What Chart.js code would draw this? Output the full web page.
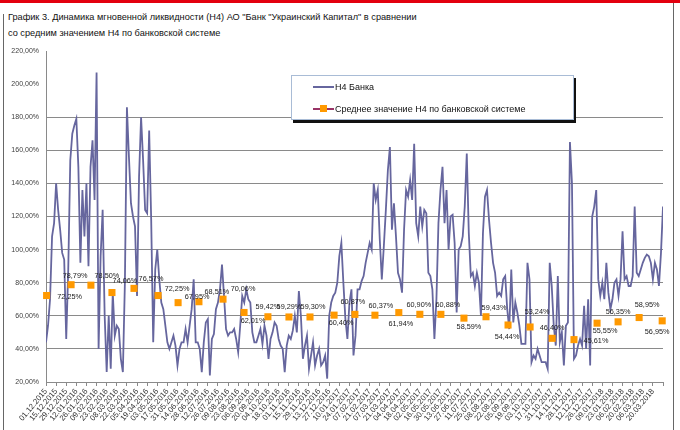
<!DOCTYPE html>
<html>
<head>
<meta charset="utf-8">
<script src="https://cdn.jsdelivr.net/npm/chart.js@4.4.1/dist/chart.umd.min.js"></script>
<style>
  html, body { margin: 0; padding: 0; background: #fff; }
  #wrap { position: relative; width: 680px; height: 430px; overflow: hidden; font-family: "Liberation Sans", Arial, sans-serif; }
  #topbar { position: absolute; left: 0; top: 0; width: 680px; height: 3px; background: #e3000f; }
  #frameL { position: absolute; left: 3px; top: 14px; width: 1px; height: 416px; background: #666; }
  #frameR { position: absolute; left: 673px; top: 3px; width: 1px; height: 427px; background: #666; }
  #title { position: absolute; left: 8px; top: 9px; font-size: 9.2px; line-height: 16px; color: #111; white-space: nowrap; }
  #chart { position: absolute; left: 0; top: 0; }
  #legend { position: absolute; left: 291px; top: 75px; width: 281px; height: 43px; background: #fff;
            border: 1px solid #a9bcd6; box-shadow: 2px 3px 0 #111; font-size: 9px; color: #111; }
  .item { position: absolute; left: 21px; height: 12px; line-height: 12px; white-space: nowrap; }
  .item .ln { position: absolute; left: 0; top: 5px; width: 21px; height: 2px; }
  .item .sq { position: absolute; left: 7px; top: 2px; width: 7px; height: 7px; background: #ff9900; }
  .item span { position: absolute; left: 22px; top: 0; }
</style>
</head>
<body>
<div id="wrap">
  <div id="topbar"></div>
  <div id="frameL"></div>
  <div id="frameR"></div>
  <div id="title">График 3. Динамика мгновенной ликвидности (Н4) АО "Банк "Украинский Капитал" в сравнении<br>со средним значением Н4 по банковской системе</div>
  <canvas id="chart" width="680" height="430"></canvas>
  <div id="legend">
    <div class="item" style="top:5px"><div class="ln" style="background:#66669e"></div><span>Н4 Банка</span></div>
    <div class="item" style="top:27px"><div class="ln" style="background:#993366"></div><div class="sq"></div><span>Среднее значение Н4 по банковской системе</span></div>
  </div>
</div>
<script>
// date labels, one every 5 points of the daily series
var tickLabels = [
  "01.12.2015", "15.12.2015", "29.12.2015", "12.01.2016", "26.01.2016", "09.02.2016", "23.02.2016",
  "08.03.2016", "22.03.2016", "05.04.2016", "19.04.2016", "03.05.2016", "17.05.2016", "31.05.2016",
  "14.06.2016", "28.06.2016", "12.07.2016", "26.07.2016", "09.08.2016", "23.08.2016", "06.09.2016",
  "20.09.2016", "04.10.2016", "18.10.2016", "01.11.2016", "15.11.2016", "29.11.2016", "13.12.2016",
  "27.12.2016", "10.01.2017", "24.01.2017", "07.02.2017", "21.02.2017", "07.03.2017", "21.03.2017",
  "04.04.2017", "18.04.2017", "02.05.2017", "16.05.2017", "30.05.2017", "13.06.2017", "27.06.2017",
  "11.07.2017", "25.07.2017", "08.08.2017", "22.08.2017", "05.09.2017", "19.09.2017", "03.10.2017",
  "17.10.2017", "31.10.2017", "14.11.2017", "28.11.2017", "12.12.2017", "26.12.2017", "09.01.2018",
  "23.01.2018", "06.02.2018", "20.02.2018", "06.03.2018", "20.03.2018"
];
var pointsPerTick = 5;

// Н4 Банка, %
var bankH4 = [
  44, 54, 70, 108, 116, 140, 124, 112, 98, 94,
  46, 88, 154, 170, 175, 179, 150, 92, 136, 108,
  140, 90, 150, 166, 130, 207, 40, 96, 124, 60,
  26, 60, 28, 74, 48, 54, 52, 34, 26, 80,
  186, 156, 128, 120, 114, 72, 144, 180, 154, 124,
  122, 172, 118, 44, 88, 100, 82, 68, 64, 54,
  44, 40, 44, 48, 42, 30, 40, 44, 44, 52,
  44, 54, 64, 82, 44, 44, 40, 26, 44, 56,
  58, 24, 46, 49, 64, 68, 76, 91, 72, 52,
  48, 50, 50, 52, 46, 38, 54, 72, 68, 76,
  70, 68, 50, 44, 44, 48, 52, 43, 54, 48,
  34, 46, 50, 56, 54, 46, 42, 40, 26, 42,
  48, 46, 51, 60, 50, 75, 60, 34, 42, 48,
  28, 36, 44, 30, 36, 40, 30, 32, 36, 22,
  60, 68, 72, 74, 80, 96, 104, 80, 58, 46,
  68, 76, 36, 48, 76, 76, 81, 84, 92, 98,
  104, 100, 140, 130, 136, 106, 82, 102, 124, 148,
  162, 112, 128, 108, 86, 82, 74, 112, 136, 132,
  142, 130, 164, 116, 108, 126, 114, 124, 122, 86,
  84, 76, 46, 70, 116, 136, 150, 116, 136, 100,
  120, 121, 104, 62, 100, 102, 108, 126, 158, 110,
  84, 86, 78, 86, 80, 60, 110, 132, 136, 118,
  104, 92, 86, 72, 74, 72, 82, 84, 64, 52,
  88, 56, 68, 62, 54, 43, 43, 43, 92, 82,
  32, 36, 34, 40, 36, 32, 32, 32, 28, 92,
  78, 54, 42, 84, 44, 50, 30, 54, 56, 165,
  140, 34, 36, 42, 46, 42, 66, 40, 70, 30,
  120, 126, 136, 82, 72, 80, 70, 92, 74, 64,
  70, 80, 82, 72, 82, 111, 82, 84, 78, 78,
  84, 126, 86, 84, 88, 92, 95, 97, 96, 92,
  82, 92, 88, 78, 98, 126
];

// monthly average of the banking system, placed at the month's position in the daily series
var avgMonths = [
  "12.2015", "01.2016", "02.2016", "03.2016", "04.2016", "05.2016", "06.2016", "07.2016", "08.2016",
  "09.2016", "10.2016", "11.2016", "12.2016", "01.2017", "02.2017", "03.2017", "04.2017", "05.2017",
  "06.2017", "07.2017", "08.2017", "09.2017", "10.2017", "11.2017", "12.2017", "01.2018", "02.2018",
  "03.2018", "04.2018"
];
var avgPos = [
  0.3, 12.4, 22.2, 32.6, 43.5, 55.4, 65.3, 75.6, 87.5, 97.9, 109.7, 120.1, 130.5, 142.4, 152.7,
  162.6, 174.4, 184.8, 195.2, 206.6, 217.5, 228.4, 239.3, 250.2, 261.0, 272.4, 282.8, 293.2, 304.6
];
var avgValues = [
  72.25, 78.79, 78.50, 74.06, 76.57, 72.25, 67.95, 68.51, 70.06, 62.01, 59.42, 59.29, 59.30, 60.40,
  60.87, 60.37, 61.94, 60.90, 60.88, 58.59, 59.43, 54.44, 53.24, 46.40, 45.61, 55.55, 56.35, 58.95, 56.95
];

// where each value label sits relative to its marker (px)
var labelOffsets = [
  [23, 1], [4, -9], [16, -9], [13, -12], [17, -9], [19, -7], [19, -6], [18, -10], [20, -10],
  [9, 9], [0, -10], [0, -10], [3, -10], [7, 8], [-2, -12], [6, -9], [2, 11], [-1, -9], [7, -9],
  [5, 9], [8, -9], [-1, 12], [7, -15], [0, -10], [22, 1], [8, 8], [0, -10], [8, -13], [-5, 11]
];

function pct(v) {
  return v.toFixed(2).replace(".", ",") + "%";
}

var FONT = '"Liberation Sans", Arial, sans-serif';
var GRID = "#8a8a8a";

var avgLabels = {
  id: "avgLabels",
  afterDatasetsDraw: function (chart) {
    var meta = chart.getDatasetMeta(0);
    var ctx = chart.ctx;
    ctx.save();
    ctx.font = "7.3px " + FONT;
    ctx.fillStyle = "#222";
    ctx.textAlign = "center";
    ctx.textBaseline = "middle";
    meta.data.forEach(function (pt, i) {
      var off = labelOffsets[i] || [0, -10];
      ctx.fillText(pct(avgValues[i]), pt.x + off[0], pt.y + off[1]);
    });
    ctx.restore();
  },
};

Chart.defaults.font.family = FONT;

var lastIndex = bankH4.length - 1;

new Chart(document.getElementById("chart"), {
  type: "line",
  data: {
    datasets: [
      {
        label: "Среднее значение Н4 по банковской системе",
        data: avgPos.map(function (p, i) { return { x: p, y: avgValues[i] }; }),
        showLine: false,
        pointStyle: "rect",
        pointRadius: 5,
        pointBackgroundColor: "#ff9900",
        pointBorderColor: "#ff9900",
        pointBorderWidth: 0,
        clip: false,
        order: 0,
      },
      {
        label: "Н4 Банка",
        data: bankH4.map(function (v, i) { return { x: i, y: v }; }),
        borderColor: "#66669e",
        borderWidth: 1.8,
        pointRadius: 0,
        tension: 0,
        order: 1,
      },
    ],
  },
  options: {
    responsive: false,
    animation: false,
    layout: { padding: { left: 0, top: 51, right: 17, bottom: 0 } },
    plugins: { legend: { display: false }, tooltip: { enabled: false } },
    scales: {
      x: {
        type: "linear",
        min: 0,
        max: lastIndex,
        afterFit: function (scale) { scale.height = 48; },
        grid: { display: true, drawOnChartArea: false, drawTicks: true, tickLength: 4, color: GRID },
        border: { color: GRID, width: 1 },
        ticks: {
          stepSize: pointsPerTick,
          autoSkip: false,
          minRotation: 50,
          maxRotation: 50,
          padding: 1,
          color: "#333",
          font: { size: 7.8 },
          callback: function (value) {
            var k = value / pointsPerTick;
            return tickLabels[k] || "";
          },
        },
      },
      y: {
        min: 20,
        max: 220,
        afterFit: function (scale) { scale.width = 46; },
        grid: {
          drawTicks: false,
          color: function (c) { return c.tick && c.tick.value >= 200 ? "rgba(0,0,0,0)" : GRID; },
        },
        border: { color: GRID, width: 1 },
        ticks: {
          stepSize: 20,
          padding: 7,
          color: "#404040",
          font: { size: 7 },
          callback: function (value) { return pct(value); },
        },
      },
    },
  },
  plugins: [avgLabels],
});
</script>
</body>
</html>
